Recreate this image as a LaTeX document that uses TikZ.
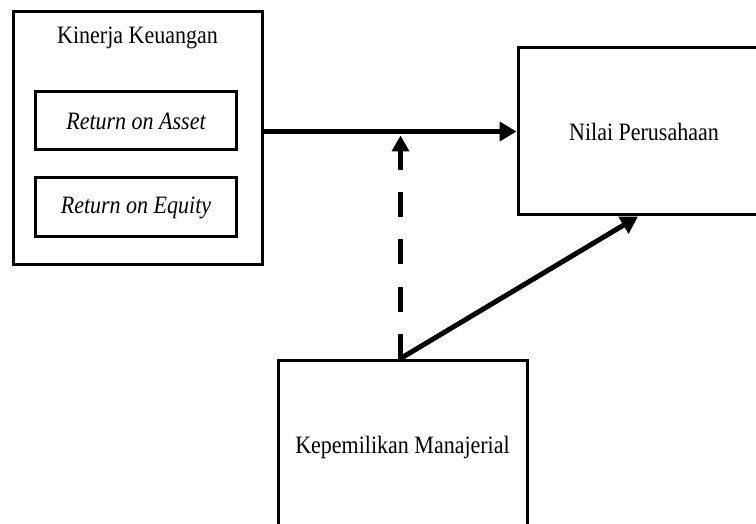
\documentclass[tikz,border=0pt]{standalone}
\usepackage{fontspec}
\setmainfont{Liberation Serif}
\usetikzlibrary{arrows.meta}
\newcommand{\sqtext}[1]{\scalebox{0.88}[1]{#1}}
\begin{document}
\begin{tikzpicture}[x=1pt,y=-1pt,
  box/.style={draw, line width=3pt, rectangle, inner sep=0pt, align=center},
  lbl/.style={inner sep=0pt, font=\fontsize{25}{30}\selectfont},
  thickarrow/.style={line width=5pt, -{Triangle[length=17pt,width=19pt]}},
  dasharrow/.style={line width=5pt, dash pattern=on 25pt off 22pt, -{Triangle[length=16pt,width=17pt]}}
]
\useasboundingbox (0,0) rectangle (756,524);
\clip (0,0) rectangle (756,524);
% Kinerja Keuangan group
\node[box, minimum width=249pt, minimum height=253pt] (kin) at (137.5,138.5) {};
\node[lbl] (kintitle) at (137.5,38) {\sqtext{Kinerja Keuangan}};
\node[box, lbl, minimum width=201pt, minimum height=58pt] (roa) at (136,121) {\sqtext{\itshape Return on Asset}};
\node[box, lbl, minimum width=201pt, minimum height=59pt] (roe) at (136,207.5) {\sqtext{\itshape Return on Equity}};
% Nilai Perusahaan
\node[box, lbl, minimum width=252pt, minimum height=167pt] (nil) at (644,131.5) {\sqtext{Nilai Perusahaan}};
% Kepemilikan Manajerial
\node[box, lbl, minimum width=249pt, minimum height=174pt] (kep) at (402.5,447) {\sqtext{Kepemilikan Manajerial}};
% connectors
\draw[thickarrow] (kin.east |- nil.west) -- (nil.west);
\draw[dasharrow] ([xshift=-2pt]kep.north) -- ([xshift=-2pt,yshift=-4pt]kep.north |- nil.west);
\draw[thickarrow] ([xshift=-2pt]kep.north) -- ([xshift=-6pt]nil.south);
\end{tikzpicture}
\end{document}
